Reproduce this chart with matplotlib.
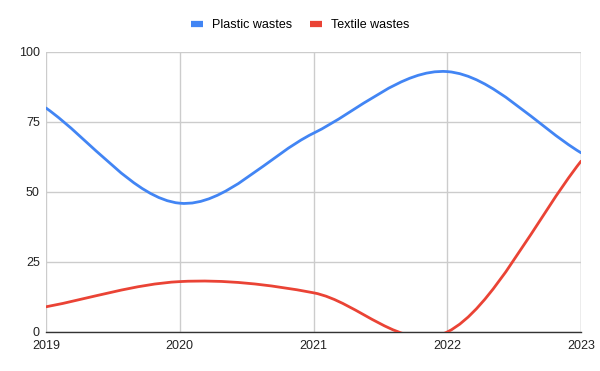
import numpy as np
import matplotlib
matplotlib.use("Agg")
import matplotlib.pyplot as plt
from matplotlib.path import Path
from matplotlib.patches import PathPatch

years = [2019, 2020, 2021, 2022, 2023]
plastic = [80, 46, 71, 93, 64]
textile = [9, 18, 14, 0, 61]
series_names = ["Plastic wastes", "Textile wastes"]
colors = ["#4285F4", "#EA4335"]
yticks = [0, 25, 50, 75, 100]

plt.rcParams['font.family'] = ['Liberation Sans', 'DejaVu Sans']

fig = plt.figure(figsize=(6, 3.71), dpi=100)
ax = fig.add_axes([46/600, 39/371, 535/600, 280/371])


def smooth_path(xs, ys):
    xs = np.asarray(xs, float)
    ys = np.asarray(ys, float)
    n = len(xs)
    verts = [(xs[0], ys[0])]
    codes = [Path.MOVETO]
    tx = np.zeros(n)
    ty = np.zeros(n)
    for i in range(n):
        if i == 0:
            tx[i], ty[i] = xs[1] - xs[0], ys[1] - ys[0]
        elif i == n - 1:
            tx[i], ty[i] = xs[-1] - xs[-2], ys[-1] - ys[-2]
        else:
            tx[i], ty[i] = (xs[i+1] - xs[i-1]) / 2, (ys[i+1] - ys[i-1]) / 2
    for i in range(n - 1):
        c1 = (xs[i] + tx[i] / 3, ys[i] + ty[i] / 3)
        c2 = (xs[i+1] - tx[i+1] / 3, ys[i+1] - ty[i+1] / 3)
        verts += [c1, c2, (xs[i+1], ys[i+1])]
        codes += [Path.CURVE4] * 3
    return Path(verts, codes)


for vals, c in zip([plastic, textile], colors):
    p = PathPatch(smooth_path(years, vals), facecolor='none',
                  edgecolor=c, lw=2, zorder=3, capstyle='round')
    ax.add_patch(p)

ax.set_xlim(2019, 2023)
ax.set_ylim(0, 100)
ax.set_xticks(years)
ax.set_xticklabels([str(y) for y in years])
ax.set_yticks(yticks)
ax.set_yticklabels([str(v) for v in yticks])
ax.grid(True, color='#cccccc', lw=1)
ax.set_axisbelow(True)
for s in ['top', 'right', 'left']:
    ax.spines[s].set_visible(False)
ax.spines['bottom'].set_color('#333333')
ax.spines['bottom'].set_linewidth(1)
ax.axvline(2023, color='#cccccc', lw=1, zorder=0)
ax.tick_params(axis='both', length=0, labelsize=9, colors='#222222')
ax.tick_params(axis='y', pad=4.5)
ax.tick_params(axis='x', pad=5.5)

handles = [plt.Line2D([], [], color=c, lw=4.5, solid_capstyle='butt') for c in colors]
fig.legend(handles, series_names, loc='center', bbox_to_anchor=(0.5, 1 - 25/371),
           ncol=2, frameon=False, fontsize=9, handlelength=1.0,
           handletextpad=0.7, columnspacing=1.4)

fig.savefig("out.png", dpi=100)
